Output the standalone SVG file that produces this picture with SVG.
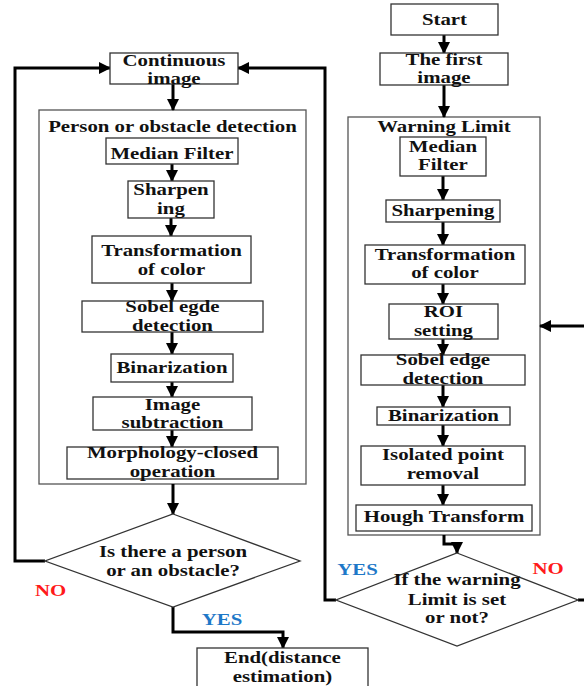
<svg xmlns="http://www.w3.org/2000/svg" width="584" height="686" viewBox="0 0 584 686">
<defs>
<marker id="ah" markerUnits="userSpaceOnUse" markerWidth="12" markerHeight="12" viewBox="0 0 12 12" refX="11" refY="6" orient="auto">
<path d="M0,0 L12,6 L0,12 z" fill="#000"/>
</marker>
<style>
.box{fill:#fff;stroke:#333;stroke-width:1.3}
.outer{fill:#fff;stroke:#555;stroke-width:1.3}
.t{font-family:"Liberation Serif","Times New Roman",serif;font-weight:bold;font-size:17.5px;text-anchor:middle;fill:#111;transform:scaleX(1.19);transform-box:fill-box;transform-origin:center}
.no{fill:#ff1a1a}
.yes{fill:#1e78c8}
.ca{fill:none;stroke:#000;stroke-width:3;marker-end:url(#ah)}
</style>
</defs>
<rect width="584" height="686" fill="#fff"/>

<g id="left-group">
<rect class="outer" x="39" y="110" width="267" height="374"/>
<text class="t" x="172.5" y="132">Person or obstacle detection</text>
</g>
<g id="right-group">
<rect class="outer" x="348" y="117" width="192" height="418"/>
<text class="t" x="444" y="132">Warning Limit</text>
</g>

<g id="connectors">
<path class="ca" d="M173,84 V110"/>
<path class="ca" d="M172,164 V181"/>
<path class="ca" d="M171,218 V236"/>
<path class="ca" d="M172,283 V301"/>
<path class="ca" d="M172,332 V354"/>
<path class="ca" d="M172,382 V397"/>
<path class="ca" d="M172,430 V447"/>
<path class="ca" d="M173,484 V514"/>
<path class="ca" d="M45,561 H15 V68 H110"/>
<path class="ca" d="M173,607 V632 H283 V648"/>
<path class="ca" d="M444,35 V53"/>
<path class="ca" d="M444,85 V117"/>
<path class="ca" d="M443,176 V200"/>
<path class="ca" d="M443,222 V245"/>
<path class="ca" d="M443,284 V304"/>
<path class="ca" d="M443,339 V355"/>
<path class="ca" d="M443,385 V407"/>
<path class="ca" d="M443,425 V446"/>
<path class="ca" d="M443,485 V505"/>
<path class="ca" d="M444,535 V544 H457 V553"/>
<path class="ca" d="M336,600 H325 V68 H238"/>
<path class="ca" d="M578,600 H592 V326 H540"/>
</g>

<g id="continuous">
<rect class="box" x="110" y="53" width="128" height="31"/>
<text class="t" x="174" y="66">Continuous</text>
<text class="t" x="174" y="84">image</text>
</g>
<g id="l-median">
<rect class="box" x="106" y="138" width="132" height="26"/>
<text class="t" x="172" y="159">Median Filter</text>
</g>
<g id="l-sharpen">
<rect class="box" x="128" y="181" width="86" height="37"/>
<text class="t" x="171" y="195">Sharpen</text>
<text class="t" x="171" y="214">ing</text>
</g>
<g id="l-transform">
<rect class="box" x="92" y="236" width="159" height="47"/>
<text class="t" x="171.5" y="256">Transformation</text>
<text class="t" x="171.5" y="275">of color</text>
</g>
<g id="l-sobel">
<rect class="box" x="82" y="301" width="181" height="31"/>
<text class="t" x="172.5" y="312">Sobel egde</text>
<text class="t" x="172.5" y="331">detection</text>
</g>
<g id="l-binar">
<rect class="box" x="111" y="354" width="122" height="28"/>
<text class="t" x="172" y="373">Binarization</text>
</g>
<g id="l-subtract">
<rect class="box" x="93" y="397" width="159" height="33"/>
<text class="t" x="172.5" y="410">Image</text>
<text class="t" x="172.5" y="428">subtraction</text>
</g>
<g id="l-morph">
<rect class="box" x="67" y="447" width="211" height="32"/>
<text class="t" x="172.5" y="458">Morphology-closed</text>
<text class="t" x="172.5" y="477">operation</text>
</g>
<g id="l-decision">
<polygon class="box" points="173,514 300,561 173,607 45,561"/>
<text class="t" x="173" y="557">Is there a person</text>
<text class="t" x="173" y="576">or an obstacle?</text>
</g>
<g id="l-labels">
<text class="t no" x="50.5" y="596">NO</text>
<text class="t yes" x="222" y="625">YES</text>
</g>
<g id="end">
<rect class="box" x="197" y="648" width="171" height="44"/>
<text class="t" x="282.5" y="663">End(distance</text>
<text class="t" x="282.5" y="682">estimation)</text>
</g>

<g id="start">
<rect class="box" x="391" y="4" width="107" height="31"/>
<text class="t" x="444.5" y="25">Start</text>
</g>
<g id="first">
<rect class="box" x="380" y="53" width="128" height="32"/>
<text class="t" x="444" y="65">The first</text>
<text class="t" x="444" y="83">image</text>
</g>
<g id="r-median">
<rect class="box" x="400" y="137" width="86" height="39"/>
<text class="t" x="443" y="152">Median</text>
<text class="t" x="443" y="170">Filter</text>
</g>
<g id="r-sharpen">
<rect class="box" x="386" y="200" width="114" height="22"/>
<text class="t" x="443" y="216">Sharpening</text>
</g>
<g id="r-transform">
<rect class="box" x="365" y="245" width="160" height="39"/>
<text class="t" x="445" y="260">Transformation</text>
<text class="t" x="445" y="278">of color</text>
</g>
<g id="r-roi">
<rect class="box" x="389" y="304" width="109" height="35"/>
<text class="t" x="443.5" y="317">ROI</text>
<text class="t" x="443.5" y="336">setting</text>
</g>
<g id="r-sobel">
<rect class="box" x="361" y="355" width="164" height="30"/>
<text class="t" x="443" y="365">Sobel edge</text>
<text class="t" x="443" y="384">detection</text>
</g>
<g id="r-binar">
<rect class="box" x="377" y="407" width="133" height="18"/>
<text class="t" x="443.5" y="421">Binarization</text>
</g>
<g id="r-isolated">
<rect class="box" x="361" y="446" width="164" height="39"/>
<text class="t" x="443" y="460">Isolated point</text>
<text class="t" x="443" y="479">removal</text>
</g>
<g id="r-hough">
<rect class="box" x="356" y="505" width="176" height="26"/>
<text class="t" x="444" y="522">Hough Transform</text>
</g>
<g id="r-decision">
<polygon class="box" points="457,553 578,600 457,646 336,600"/>
<text class="t" x="457" y="585">If the warning</text>
<text class="t" x="457" y="605">Limit is set</text>
<text class="t" x="457" y="623">or not?</text>
</g>
<g id="r-labels">
<text class="t yes" x="357.5" y="575">YES</text>
<text class="t no" x="548" y="574">NO</text>
</g>
</svg>
